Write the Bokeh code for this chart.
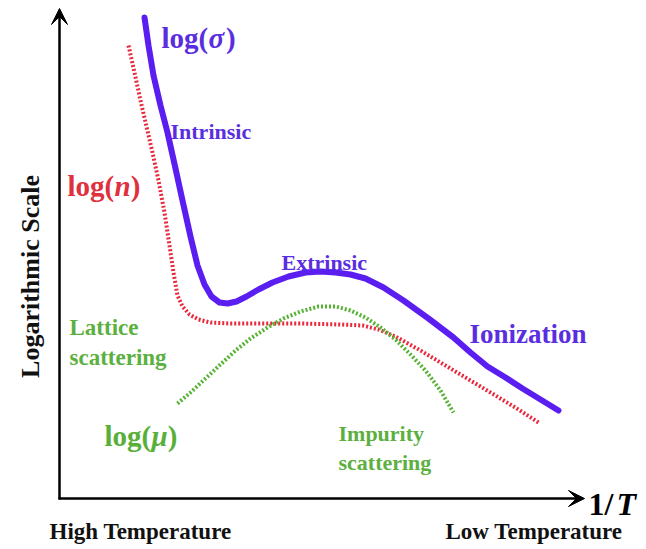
from bokeh.plotting import figure
from bokeh.models import Range1d, Arrow, VeeHead
from bokeh.core.properties import value
from bokeh.embed import file_html
from bokeh.resources import INLINE
import math

# Schematic curves against 1/T (canvas units, y grows downward)
sigma_x = [144, 148, 153, 160, 167, 175, 182, 190, 197, 204, 211, 219, 227, 236, 246, 258, 272, 288, 305, 320, 335, 350, 365, 383, 403, 428, 453, 470, 487, 505, 522, 540, 558]
sigma_y = [17, 45, 75, 105, 132, 168, 200, 236, 265, 284, 296, 302, 303, 301, 296, 289, 282, 276, 272, 271, 272, 274, 278, 287, 300, 318, 337, 352, 366, 377, 388, 399, 410]

n_x = [128, 134, 140, 146, 152, 158, 164, 169, 173, 177, 182, 189, 198, 210, 230, 260, 300, 340, 362, 378, 395, 420, 445, 470, 495, 518, 538]
n_y = [45, 72, 100, 126, 152, 180, 212, 245, 272, 295, 306, 314, 319, 322, 323, 323, 323, 324, 325, 329, 336, 350, 365, 380, 395, 409, 422]

mu_x = [177, 190, 205, 220, 235, 250, 267, 283, 300, 318, 335, 350, 365, 380, 395, 410, 425, 440, 453]
mu_y = [403, 392, 378, 364, 350, 338, 327, 318, 311, 306, 306, 310, 317, 327, 339, 354, 370, 390, 412]

W, H = 646, 549
p = figure(width=W, height=H, x_range=Range1d(0, W), y_range=Range1d(H, 0),
           output_backend="svg", toolbar_location=None, min_border=0)
p.axis.visible = False
p.grid.visible = False
p.outline_line_color = None
p.background_fill_color = "white"
p.border_fill_color = "white"

# Axes drawn as arrows
p.add_layout(Arrow(end=VeeHead(size=16, fill_color="black", line_color="black"),
                   x_start=59, y_start=499, x_end=59, y_end=8,
                   line_width=2.5, line_color="black"))
p.add_layout(Arrow(end=VeeHead(size=16, fill_color="black", line_color="black"),
                   x_start=58, y_start=498, x_end=584, y_end=498,
                   line_width=2.5, line_color="black"))

BLUE = "#5a1ff0"
RED = "#e8283c"
GREEN = "#55b232"

p.line(n_x, n_y, line_color=RED, line_width=4, line_dash="2 2", line_join="round")
p.line(mu_x, mu_y, line_color=GREEN, line_width=4, line_dash="2 2", line_join="round")
p.line(sigma_x, sigma_y, line_color=BLUE, line_width=6, line_join="round", line_cap="round")

SERIF = value("Liberation Serif")


def label(x, y, s, size, color, style="bold", align="left", angle=0):
    p.text(x=[x], y=[y], text=[s], text_font=SERIF, text_font_size=f"{size}px",
           text_font_style=style, text_color=color, text_align=align,
           text_baseline="middle", angle=angle)


def formula(x, y, var, size, color):
    # "log(" + italic variable + ")"
    left = "log("
    w_left = size * 1.62
    w_var = size * (0.60 if var == "σ" else 0.56)
    label(x, y, left, size, color)
    label(x + w_left, y, var, size, color, style="bold italic")
    label(x + w_left + w_var, y, ")", size, color)


formula(161, 37, "σ", 29, "#5a2ee0")
formula(67, 185, "n", 29, "#e0303e")
formula(104, 435, "μ", 29, "#58b038")

label(170, 131, "Intrinsic", 22, "#5a2ee0")
label(281, 262, "Extrinsic", 22, "#5a2ee0")
label(469, 333, "Ionization", 27, "#5a2ee0")

label(69, 327, "Lattice", 23, "#5cb040")
label(69, 357, "scattering", 23, "#5cb040")
label(338, 433, "Impurity", 22, "#5cb040")
label(338, 462, "scattering", 22, "#5cb040")

label(588, 503, "1/", 32, "black")
label(616, 503, "T", 32, "black", style="bold italic")
label(49, 531, "High Temperature", 23, "#111111")
label(445, 531, "Low Temperature", 23, "#111111")
label(30, 276, "Logarithmic Scale", 26, "#111111", align="center", angle=math.pi / 2)

open("out.html", "w").write(file_html(p, INLINE))
